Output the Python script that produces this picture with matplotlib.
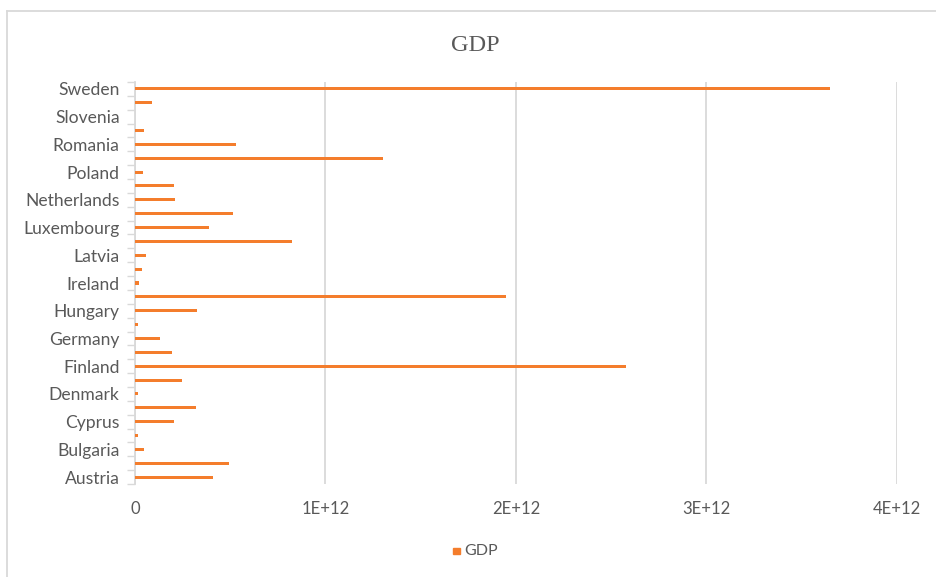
import matplotlib.pyplot as plt
import numpy as np
from matplotlib.patches import Rectangle
from matplotlib.ticker import FixedLocator, FuncFormatter

countries = ['Austria', 'Belgium', 'Bulgaria', 'Croatia', 'Cyprus', 'Czechia',
             'Denmark', 'Estonia', 'Finland', 'France', 'Germany', 'Greece',
             'Hungary', 'Iceland', 'Ireland', 'Italy', 'Latvia', 'Lithuania',
             'Luxembourg', 'Malta', 'Netherlands', 'Norway', 'Poland', 'Portugal',
             'Romania', 'Slovakia', 'Slovenia', 'Spain', 'Sweden']
gdp = [0.409e12, 0.495e12, 0.046e12, 0.015e12, 0.207e12, 0.319e12,
       0.016e12, 0.246e12, 2.579e12, 0.195e12, 0.132e12, 0.014e12,
       0.326e12, 1.947e12, 0.019e12, 0.038e12, 0.056e12, 0.825e12,
       0.389e12, 0.517e12, 0.210e12, 0.204e12, 0.040e12, 1.300e12,
       0.530e12, 0.047e12, 0.002e12, 0.088e12, 3.651e12]
x_ticks = [0, 1e12, 2e12, 3e12, 4e12]

orange = '#f47d2c'
grey_text = '#595959'
grid_grey = '#d9d9d9'

fig = plt.figure(figsize=(9.36, 5.77), dpi=100)
ax = fig.add_axes([0.1442, 0.161, 0.8141, 0.697])

y = np.arange(len(countries))
ax.barh(y, gdp, height=0.22, color=orange, zorder=3)

ax.set_xlim(0, 4e12)
ax.set_ylim(-0.5, len(countries) - 0.5)
ax.xaxis.set_major_locator(FixedLocator(x_ticks))
ax.xaxis.set_major_formatter(FuncFormatter(lambda v, p: '0' if v == 0 else f'{int(v / 1e12)}E+12'))
ax.grid(axis='x', color=grid_grey, linewidth=1.3, zorder=0)
ax.tick_params(axis='x', length=0, pad=12, labelsize=12, labelcolor=grey_text)

# every other category is labelled, ticks sit on category boundaries
ax.set_yticks(y[::2])
ax.set_yticklabels(countries[::2], fontsize=12.6, color=grey_text)
ax.tick_params(axis='y', which='major', length=0, pad=11)
ax.set_yticks(np.arange(-0.5, len(countries), 1.0), minor=True)
ax.tick_params(axis='y', which='minor', length=6, width=1, color=grid_grey, direction='out')

for side in ['top', 'right', 'bottom']:
    ax.spines[side].set_visible(False)
ax.spines['left'].set_color(grid_grey)
ax.spines['left'].set_linewidth(1.3)

for lbl in ax.get_xticklabels() + ax.get_yticklabels():
    lbl.set_family(['Lato', 'DejaVu Sans'])

fig.text(0.508, 0.922, 'GDP', ha='center', va='center', fontsize=17.5,
         color=grey_text, family='Liberation Serif')

# legend entry below the axis
fig.patches.append(Rectangle((0.4845, 0.0405), 0.0065, 0.0105, transform=fig.transFigure,
                             color=orange))
fig.text(0.4955, 0.045, 'GDP', ha='left', va='center', fontsize=11.5,
         color=grey_text, family=['Lato', 'DejaVu Sans'])

# chart frame, only its left and top edges fall inside the image
fig.add_artist(plt.Line2D([0.0075, 0.0075], [0, 0.981], transform=fig.transFigure,
                          color=grid_grey, linewidth=1.3))
fig.add_artist(plt.Line2D([0.0075, 1.0], [0.981, 0.981], transform=fig.transFigure,
                          color=grid_grey, linewidth=1.3))

fig.savefig('out.png', dpi=100)
